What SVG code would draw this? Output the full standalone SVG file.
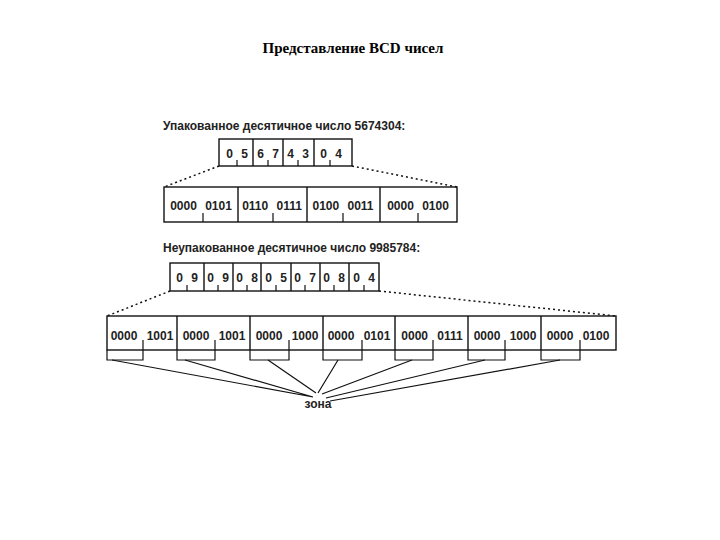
<svg xmlns="http://www.w3.org/2000/svg" width="720" height="540" viewBox="0 0 720 540">
<style>
.t{font-family:"Liberation Sans",Arial,sans-serif;font-size:12px;font-weight:bold;fill:#222}
.w{word-spacing:5px}
.ww{word-spacing:6px}
.b{fill:none;stroke:#111;stroke-width:1.4}
.d{fill:none;stroke:#111;stroke-width:1.5;stroke-dasharray:2 3}
.l{fill:none;stroke:#111;stroke-width:1.2}
</style>
<rect width="720" height="540" fill="#fff"/>
<text x="353" y="53" text-anchor="middle" style="font-family:'Liberation Serif',serif;font-size:15px;font-weight:bold">Представление BCD чисел</text>
<g id="packed">
<text class="t" x="163" y="130">Упакованное десятичное число 5674304:</text>
<g id="packed-top">
<rect class="b" x="219" y="139" width="133" height="27"/>
<path class="b" d="M253 139V166M283 139V166M314 139V166"/>
<path class="l" d="M237 160V166M268 160V166M298 160V166M330 160V166"/>
<text class="t w" x="237" y="158" text-anchor="middle">0 5</text>
<text class="t w" x="268" y="158" text-anchor="middle">6 7</text>
<text class="t w" x="298" y="158" text-anchor="middle">4 3</text>
<text class="t w" x="331" y="158" text-anchor="middle">0 4</text>
</g>
<g id="packed-bottom">
<rect class="b" x="164" y="187" width="293" height="35"/>
<path class="b" d="M238 187V222M307 187V222M380 187V222"/>
<path class="l" d="M203 213V222M273 213V222M343 213V222M418 213V222"/>
<text class="t w" x="201" y="210" text-anchor="middle">0000 0101</text>
<text class="t w" x="272" y="210" text-anchor="middle">0110 0111</text>
<text class="t w" x="343" y="210" text-anchor="middle">0100 0011</text>
<text class="t w" x="418" y="210" text-anchor="middle">0000 0100</text>
</g>
</g>
<g id="unpacked">
<text class="t" x="163" y="252">Неупакованное десятичное число 9985784:</text>
<g id="unpacked-top">
<rect class="b" x="170" y="263" width="209" height="28"/>
<path class="b" d="M204 263V291M233 263V291M261 263V291M291 263V291M320 263V291M349 263V291"/>
<path class="l" d="M187 285V291M218 285V291M247 285V291M276 285V291M305 285V291M334 285V291M364 285V291"/>
<text class="t w" x="187" y="282" text-anchor="middle">0 9</text>
<text class="t w" x="218" y="282" text-anchor="middle">0 9</text>
<text class="t w" x="247" y="282" text-anchor="middle">0 8</text>
<text class="t w" x="276" y="282" text-anchor="middle">0 5</text>
<text class="t w" x="305" y="282" text-anchor="middle">0 7</text>
<text class="t w" x="334" y="282" text-anchor="middle">0 8</text>
<text class="t w" x="364" y="282" text-anchor="middle">0 4</text>
</g>
<g id="unpacked-bottom">
<rect class="b" x="107" y="316" width="509" height="34"/>
<path class="b" d="M177 316V350M250 316V350M323 316V350M395 316V350M468 316V350M541 316V350"/>
<text class="t ww" x="142" y="340" text-anchor="middle">0000 1001</text>
<text class="t ww" x="214" y="340" text-anchor="middle">0000 1001</text>
<text class="t ww" x="287" y="340" text-anchor="middle">0000 1000</text>
<text class="t ww" x="359" y="340" text-anchor="middle">0000 0101</text>
<text class="t ww" x="432" y="340" text-anchor="middle">0000 0111</text>
<text class="t ww" x="505" y="340" text-anchor="middle">0000 1000</text>
<text class="t ww" x="578" y="340" text-anchor="middle">0000 0100</text>
</g>
</g>
<g id="connectors">
<path class="d" d="M219 166L164 187M352 166L457 187"/>
<path class="d" d="M170 291L107 316M379 291L616 316"/>
<path class="l" d="M107 350V360H143V340M177 350V360H215V340M250 350V360H289V340M323 350V360H362V340M395 350V360H433V340M468 350V360H505V340M541 350V360H580V340"/>
<path class="l" d="M112 360L313 397M185 360L313 397M268 360L316 393M338 360L318 393M412 360L322 394M485 360L326 398M560 360L330 401"/>
</g>
<g id="zone">
<text class="t" x="318" y="408" text-anchor="middle">зона</text>
</g>
</svg>
